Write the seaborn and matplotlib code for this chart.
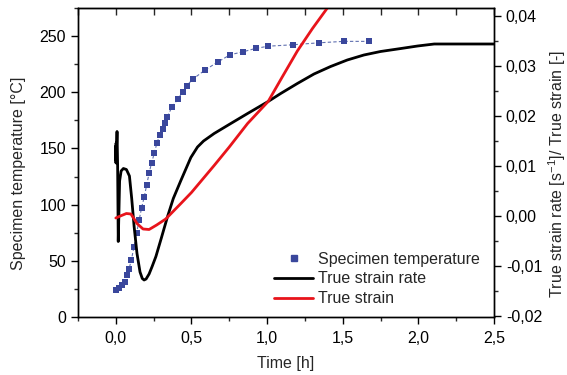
import matplotlib
matplotlib.use("Agg")
import matplotlib.pyplot as plt
from matplotlib.lines import Line2D
from matplotlib.ticker import MultipleLocator, FuncFormatter
import numpy as np
import pandas as pd
import seaborn as sns

# Specimen temperature [°C] vs time [h]
temp_time = [0.000, 0.020, 0.040, 0.058, 0.075, 0.088, 0.103, 0.120, 0.137, 0.154,
             0.170, 0.188, 0.204, 0.220, 0.236, 0.254, 0.271, 0.290, 0.310, 0.325,
             0.340, 0.370, 0.408, 0.441, 0.470, 0.507, 0.589, 0.673, 0.756, 0.840,
             0.924, 1.007, 1.173, 1.340, 1.506, 1.671]
temp_vals = [24, 25.5, 28.5, 31, 37, 43, 51, 62.5, 74.5, 86,
             97, 107, 117.5, 128, 137, 145.6, 154.5, 162, 167, 173,
             178, 186.6, 193.6, 200, 206, 211.5, 219.7, 226.9, 233.4, 236,
             239, 241, 242.3, 244, 245.3, 245.3]

# True strain rate [1/s] vs time [h]
rate_time = [0.000, 0.001, 0.002, 0.003, 0.005, 0.008, 0.012, 0.016, 0.020, 0.025,
             0.035, 0.050, 0.070, 0.090, 0.105, 0.121, 0.140, 0.160, 0.175, 0.187,
             0.200, 0.220, 0.240, 0.265, 0.300, 0.342, 0.380, 0.430, 0.496, 0.540,
             0.580, 0.650, 0.760, 0.871, 1.007, 1.090, 1.200, 1.310, 1.420, 1.530,
             1.640, 1.750, 1.885, 1.995, 2.105, 2.300, 2.500]
rate_vals = [0.0140, 0.0106, 0.0146, 0.0110, 0.0140, 0.0169, 0.0100, -0.0051, 0.0000, 0.0070,
             0.0090, 0.0095, 0.0093, 0.0080, 0.0035, -0.0021, -0.0075, -0.0112, -0.0125, -0.0128,
             -0.0126, -0.0116, -0.0101, -0.0081, -0.0045, -0.0001, 0.0035, 0.0071, 0.0117, 0.0138,
             0.0150, 0.0165, 0.0185, 0.0205, 0.0229, 0.0245, 0.0265, 0.0284, 0.0299, 0.0312,
             0.0322, 0.0329, 0.0335, 0.0340, 0.0344, 0.0344, 0.0344]

# True strain [-] vs time [h]
strain_time = [0.000, 0.030, 0.070, 0.100, 0.140, 0.180, 0.220, 0.270, 0.330, 0.430,
               0.500, 0.650, 0.750, 0.871, 1.007, 1.100, 1.200, 1.300, 1.420]
strain_vals = [-0.0004, 0.0000, 0.0005, 0.0004, -0.0015, -0.0026, -0.0027, -0.0018, -0.0006, 0.0025,
               0.0047, 0.0101, 0.0138, 0.0185, 0.0229, 0.0278, 0.0330, 0.0375, 0.0425]

x_ticks = [0.0, 0.5, 1.0, 1.5, 2.0, 2.5]
left_ticks = [0, 50, 100, 150, 200, 250]
right_ticks = [-0.02, -0.01, 0.00, 0.01, 0.02, 0.03, 0.04]

labels = ["Specimen temperature", "True strain rate", "True strain"]

sns.set_style("ticks")
plt.rcParams["font.family"] = ["Liberation Sans", "DejaVu Sans"]
plt.rcParams["mathtext.default"] = "regular"
FS = 11.5

BLUE = "#3a479c"
RED = "#e8141b"

fig = plt.figure(figsize=(5.67, 3.75), dpi=100)
ax = fig.add_axes([78 / 567, 1 - 317 / 375, 416 / 567, 309 / 375])
ax2 = ax.twinx()

temp_df = pd.DataFrame({"t": temp_time, "T": temp_vals})
rate_df = pd.DataFrame({"t": rate_time, "v": rate_vals})
strain_df = pd.DataFrame({"t": strain_time, "v": strain_vals})

sns.lineplot(data=temp_df, x="t", y="T", ax=ax, color="#6070b0", lw=0.8,
             linestyle=(0, (3, 2)), sort=False, estimator=None, legend=False)
sns.scatterplot(data=temp_df, x="t", y="T", ax=ax, color=BLUE, marker="s",
                s=20, linewidth=0, legend=False, zorder=3)

sns.lineplot(data=rate_df, x="t", y="v", ax=ax2, color="black", lw=2.0,
             sort=False, estimator=None, legend=False)
sns.lineplot(data=strain_df, x="t", y="v", ax=ax2, color=RED, lw=2.0,
             sort=False, estimator=None, legend=False)

ax.set_xlim(-0.25, 2.5)
ax.set_ylim(0, 275)
ax2.set_ylim(-0.0202, 0.0416)

def comma(fmt):
    return FuncFormatter(lambda v, p: (fmt % v).replace(".", ","))

ax.set_xticks(x_ticks)
ax.xaxis.set_major_formatter(comma("%.1f"))
ax.xaxis.set_minor_locator(MultipleLocator(0.25))
ax.set_yticks(left_ticks)
ax.yaxis.set_major_formatter(comma("%d"))
ax.yaxis.set_minor_locator(MultipleLocator(25))
ax2.set_yticks(right_ticks)
ax2.yaxis.set_major_formatter(comma("%.2f"))
ax2.yaxis.set_minor_locator(MultipleLocator(0.005))

for a in (ax, ax2):
    a.tick_params(which="major", direction="out", length=5, width=1,
                  labelsize=FS, pad=3.5, colors="black")
    a.tick_params(which="minor", direction="out", length=3, width=1)
    for s in a.spines.values():
        s.set_visible(True)
        s.set_linewidth(1.0)
        s.set_color("black")
ax.tick_params(axis="x", which="major", pad=5)

top = ax.secondary_xaxis("top")
top.set_xticks(x_ticks)
top.xaxis.set_minor_locator(MultipleLocator(0.25))
top.tick_params(which="both", direction="in", length=5, width=1, labeltop=False)

ax.set_xlabel("Time [h]", fontsize=FS, labelpad=7)
ax.set_ylabel("Specimen temperature [°C]", fontsize=FS)
ax.yaxis.set_label_coords(-0.125, 0.466)
ax2.set_ylabel("True strain rate [s$^{-1}$]/ True strain [-]", fontsize=FS)
ax2.yaxis.set_label_coords(1.126, 0.463)

handles = [
    Line2D([], [], color=BLUE, marker="s", linestyle="none", markersize=5),
    Line2D([], [], color="black", lw=2.0),
    Line2D([], [], color=RED, lw=2.0),
]
ax2.legend(handles, labels, loc="lower right", bbox_to_anchor=(0.965, 0.035),
           frameon=False, fontsize=FS, handlelength=2.4, handletextpad=0.3,
           labelspacing=0.3, borderpad=0, borderaxespad=0)

fig.savefig("out.png", dpi=100)
